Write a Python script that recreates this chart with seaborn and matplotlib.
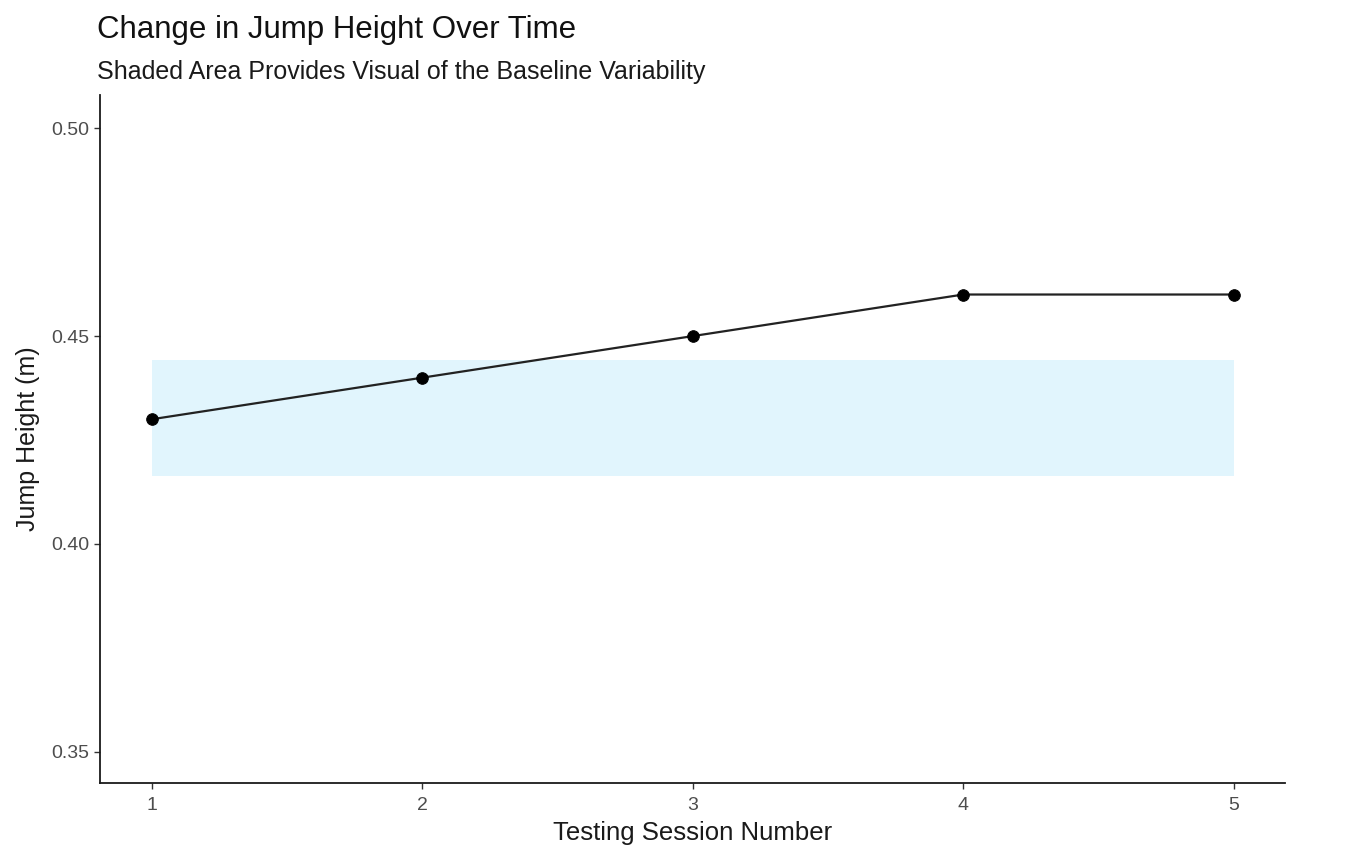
import numpy as np
import pandas as pd
import matplotlib
matplotlib.use("Agg")
import matplotlib.pyplot as plt
import seaborn as sns

# data
sessions = [1, 2, 3, 4, 5]
jump_height = [0.43, 0.44, 0.45, 0.46, 0.46]
band_lower = 0.4163
band_upper = 0.4442

sns.set_theme(style="ticks")
plt.rcParams["font.family"] = ["Liberation Sans", "DejaVu Sans"]

df = pd.DataFrame({"Session": sessions, "JumpHeight": jump_height})

fig = plt.figure(figsize=(13.56, 8.68), dpi=100)
ax = fig.add_axes([0.0737, 0.0979, 0.874, 0.7927])

# baseline variability band
ax.fill_between(sessions, [band_lower] * len(sessions), [band_upper] * len(sessions),
                color="#E1F5FD", linewidth=0, zorder=1)

sns.lineplot(data=df, x="Session", y="JumpHeight", ax=ax, color="#222222",
             linewidth=1.6, zorder=3)
sns.scatterplot(data=df, x="Session", y="JumpHeight", ax=ax, color="black",
                s=70, edgecolor="black", zorder=4)

ax.set_xlim(0.808, 5.19)
ax.set_ylim(0.3425, 0.508)
ax.set_xticks(sessions)
ax.set_yticks([0.35, 0.40, 0.45, 0.50])
ax.set_yticklabels(["0.35", "0.40", "0.45", "0.50"])

for side in ["top", "right"]:
    ax.spines[side].set_visible(False)
for side in ["left", "bottom"]:
    ax.spines[side].set_color("#1a1a1a")
    ax.spines[side].set_linewidth(1.3)

ax.tick_params(axis="both", colors="#333333", labelcolor="#4D4D4D",
               labelsize=14, length=4, width=1.0)
ax.tick_params(axis="x", pad=6)
ax.set_xlabel("Testing Session Number", fontsize=18.5, color="#1a1a1a", labelpad=5)
ax.set_ylabel("Jump Height (m)", fontsize=18, color="#1a1a1a", labelpad=8)

fig.text(0.0715, 0.9654, "Change in Jump Height Over Time", fontsize=22.5,
         color="#111111", va="center", ha="left")
fig.text(0.0715, 0.917, "Shaded Area Provides Visual of the Baseline Variability",
         fontsize=18, color="#1a1a1a", va="center", ha="left")

fig.savefig("out.png", dpi=100)
